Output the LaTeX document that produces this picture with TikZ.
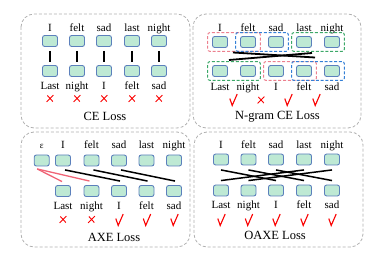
\documentclass[tikz,border=0pt]{standalone}
\usepackage{fontspec}
\setmainfont{Liberation Serif}
\usetikzlibrary{fit,calc}
\definecolor{cellfill}{RGB}{190,233,212}
\definecolor{cellline}{RGB}{92,128,188}
\definecolor{panelgray}{RGB}{175,175,175}
\definecolor{gpink}{RGB}{236,128,142}
\definecolor{gblue}{RGB}{52,128,214}
\definecolor{ggreen}{RGB}{60,168,104}
\definecolor{axepink}{RGB}{240,100,118}
\definecolor{markred}{RGB}{250,0,0}
\begin{document}
\begin{tikzpicture}[x=1pt,y=-1pt,
 cell/.style={draw=cellline, fill=cellfill, line width=0.9pt, rounded corners=2.2pt, minimum width=15pt, minimum height=11pt, inner sep=0pt},
 lbl/.style={font=\fontsize{11}{13}\selectfont, anchor=base, inner sep=0pt},
 ttl/.style={font=\fontsize{12.5}{15}\selectfont, anchor=base, inner sep=0pt},
 panel/.style={draw=panelgray, dash pattern=on 3pt off 2pt, line width=0.8pt, rounded corners=13pt},
 grp/.style={dash pattern=on 3pt off 1.8pt, line width=1pt, rounded corners=2.5pt, inner xsep=4.5pt, inner ysep=3.5pt},
 link/.style={line width=1.6pt, black},
 chk/.pic={\draw[markred, line width=1.1pt, line join=miter] (-3.2,-2) -- (-0.8,5) -- (4.2,-6.5);},
 crs/.pic={\draw[markred, line width=0.9pt] (-2.6,-3) -- (2.8,3) (3.4,-3.4) -- (-3.4,3.4);},
]
\useasboundingbox (0,0) rectangle (382,261);
% panels
\draw[panel] (21,14) rectangle (190,128);
\draw[panel] (193,14) rectangle (361,128);
\draw[panel] (21,132) rectangle (190,247);
\draw[panel] (194,132) rectangle (363,247);

% ---------- CE Loss ----------
\foreach \i/\x/\t/\b in {1/50/I/Last, 2/77/felt/night, 3/104/sad/I, 4/132/last/felt, 5/159/night/sad} {
  \node[cell] (a\i) at (\x,41) {};
  \node[cell] (A\i) at (\x,71) {};
  \node[lbl] (at\i) at (\x,31.5) {\t};
  \node[lbl] (ab\i) at (\x,90) {\b};
  \pic (ax\i) at (\x,98.5) {crs};
  \draw[link, line width=2pt] ($(a\i.south)+(0,4)$) -- ($(A\i.north)+(0,-3)$);
}
\node[ttl] (t1) at (105,120.5) {CE Loss};

% ---------- N-gram CE Loss ----------
\foreach \i/\x/\t/\b in {1/220/I/Last, 2/248/felt/night, 3/276/sad/I, 4/304/last/felt, 5/332/night/sad} {
  \node[cell] (b\i) at (\x,42) {};
  \node[cell] (B\i) at (\x,71) {};
  \node[lbl] (bt\i) at (\x,31.5) {\t};
  \node[lbl] (bb\i) at (\x,90.5) {\b};
}
\node[grp, draw=gpink, fit=(b1)(b2)] (gtp) {};
\node[grp, draw=gblue, fit=(b2)(b3)] (gtb) {};
\node[grp, draw=ggreen, fit=(b4)(b5)] (gtg) {};
\node[grp, draw=ggreen, fit=(B1)(B2)] (gbg) {};
\node[grp, draw=gpink, fit=(B3)(B4)] (gbp) {};
\node[grp, draw=gblue, fit=(B4)(B5)] (gbb) {};
\coordinate (n1s) at (233,52.5);
\coordinate (n1e) at (315,57.5);
\coordinate (n2s) at (312,53);
\coordinate (n2e) at (229,60);
\draw[link, line width=1.8pt] (n1s) -- (n1e);
\draw[link, line width=1.8pt] (n2s) -- (n2e);
\pic (bm1) at (233,100.5) {chk};
\pic (bm2) at (261,100) {crs};
\pic (bm3) at (288,100.5) {chk};
\pic (bm4) at (316,100.5) {chk};
\node[ttl] (t2) at (277.5,120) {N-gram CE Loss};

% ---------- AXE Loss ----------
\foreach \i/\x/\t in {0/41.7/{\fontsize{9}{11}\selectfont ε}, 1/63/I, 2/91.5/felt, 3/119/sad, 4/146.5/last, 5/174/night} {
  \node[cell] (c\i) at (\x,160.5) {};
  \node[lbl] (ct\i) at (\x,149) {\t};
}
\foreach \i/\x/\b in {1/63/Last, 2/91.5/night, 3/119/I, 4/146.5/felt, 5/174/sad} {
  \node[cell] (C\i) at (\x,191) {};
  \node[lbl] (cb\i) at (\x,209.5) {\b};
}
\coordinate (eps) at ($(c0.south)+(-4.5,2.5)$);
\draw[axepink, line width=1.3pt] (eps) -- ($(C1.north)+(-1,-3.5)$);
\draw[axepink, line width=1.3pt] (eps) -- ($(C2.north)+(-2,-4)$);
\foreach \s/\e in {1/3, 2/4, 3/5} {
  \draw[link, line width=1.5pt] ($(c\s.south)+(2,3.5)$) -- ($(C\e.north)+(1,-4)$);
}
\pic (cm1) at (63,219.5) {crs};
\pic (cm2) at (91.5,219.5) {crs};
\pic (cm3) at (119,220.5) {chk};
\pic (cm4) at (146.5,220.5) {chk};
\pic (cm5) at (174,220.5) {chk};
\node[ttl] (t3) at (114,241) {AXE Loss};

% ---------- OAXE Loss ----------
\foreach \i/\x/\t/\b in {1/221/I/Last, 2/248.5/felt/night, 3/276/sad/I, 4/304/last/felt, 5/332/night/sad} {
  \node[cell] (d\i) at (\x,159.5) {};
  \node[cell] (D\i) at (\x,190.5) {};
  \node[lbl] (dt\i) at (\x,148.5) {\t};
  \node[lbl] (db\i) at (\x,209) {\b};
  \pic (dm\i) at (\x,220.5) {chk};
}
\foreach \s/\e in {1/3, 2/4, 3/5, 4/1, 5/2} {
  \draw[link, line width=1.5pt] ($(d\s.south)+(0,4.5)$) -- ($(D\e.north)+(0,-4)$);
}
\node[ttl] (t4) at (275,240) {OAXE Loss};
\end{tikzpicture}
\end{document}
